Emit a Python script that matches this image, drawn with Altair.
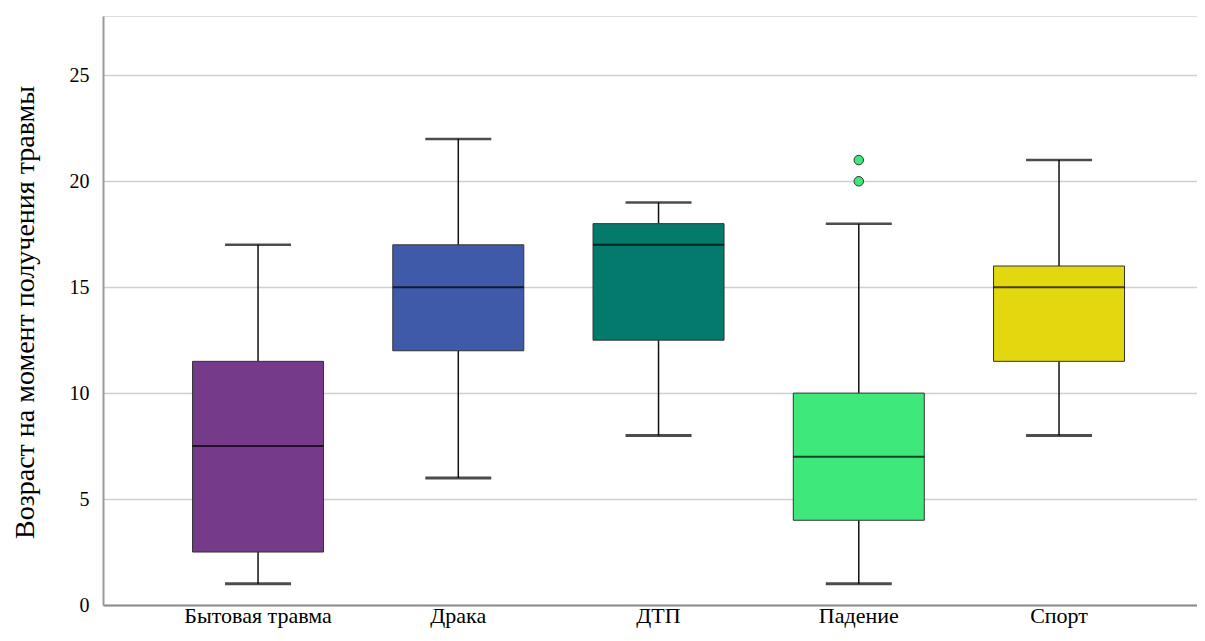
import altair as alt
import pandas as pd

categories = ["Бытовая травма", "Драка", "ДТП", "Падение", "Спорт"]
whisker_low = [1, 6, 8, 1, 8]
q1 = [2.5, 12, 12.5, 4, 11.5]
median = [7.5, 15, 17, 7, 15]
q3 = [11.5, 17, 18, 10, 16]
whisker_high = [17, 22, 19, 18, 21]
colors = ["#763A8B", "#3E5AA8", "#037A6C", "#3FE87B", "#E3D710"]

outlier_cat = ["Падение", "Падение"]
outlier_val = [20, 21]

df = pd.DataFrame({
    "cat": categories, "lo": whisker_low, "q1": q1, "med": median,
    "q3": q3, "hi": whisker_high,
})
odf = pd.DataFrame({"cat": outlier_cat, "v": outlier_val})

FONT = "Liberation Serif"

xscale = alt.Scale(domain=categories, paddingInner=0, paddingOuter=0.2316, align=0.592)
yscale = alt.Scale(domain=[0, 27.8], nice=False, zero=True)

x = alt.X("cat:N", scale=xscale, sort=categories,
          axis=alt.Axis(title=None, labelAngle=0, labelFont=FONT, labelFontSize=22,
                        labelColor="#000", domainColor="#8c8c8c", domainWidth=2,
                        ticks=False, labelPadding=0, grid=False))
y_axis = alt.Axis(title="Возраст на момент получения травмы", titleFont=FONT,
                  titleFontSize=28, titleFontWeight="normal", titleColor="#000",
                  titleX=-78, titleY=296, titleAngle=-90, titleBaseline="middle",
                  titleAlign="center",
                  values=[0, 5, 10, 15, 20, 25], labelFont=FONT, labelFontSize=20,
                  labelColor="#000", labelPadding=14, ticks=False,
                  domainColor="#9a9a9a", domainWidth=2,
                  grid=True, gridColor="#cfcfcf", gridWidth=1.5)

base = alt.Chart(df)

whisk_hi = base.mark_rule(color="#111", strokeWidth=1.5).encode(
    x=x, y=alt.Y("q3:Q", scale=yscale, axis=y_axis), y2="hi:Q")
whisk_lo = base.mark_rule(color="#111", strokeWidth=1.5).encode(
    x=x, y=alt.Y("lo:Q", scale=yscale), y2="q1:Q")
box = base.mark_bar(size=131, stroke="#333", strokeWidth=1).encode(
    x=x, y=alt.Y("q1:Q", scale=yscale), y2="q3:Q",
    color=alt.Color("cat:N", scale=alt.Scale(domain=categories, range=colors), legend=None))
med = base.mark_tick(size=131, thickness=2, color="#000", orient="horizontal").encode(
    x=x, y=alt.Y("med:Q", scale=yscale))
cap_hi = base.mark_tick(size=66, thickness=2.5, color="#000", orient="horizontal").encode(
    x=x, y=alt.Y("hi:Q", scale=yscale))
cap_lo = base.mark_tick(size=66, thickness=3, color="#000", orient="horizontal").encode(
    x=x, y=alt.Y("lo:Q", scale=yscale))
outl = alt.Chart(odf).mark_point(filled=True, size=90, fill="#3FE87B",
                                 stroke="#333", strokeWidth=1, opacity=1).encode(
    x=x, y=alt.Y("v:Q", scale=yscale))

chart = alt.layer(whisk_hi, whisk_lo, box, med, cap_hi, cap_lo, outl).properties(
    width=1094, height=589,
    autosize=alt.AutoSizeParams(type="none"),
    padding={"left": 95, "top": 8, "right": 0, "bottom": 24},
).configure_view(stroke=None).configure(background="white")

chart.save("out.html", embed_options={"renderer": "svg", "actions": False})
